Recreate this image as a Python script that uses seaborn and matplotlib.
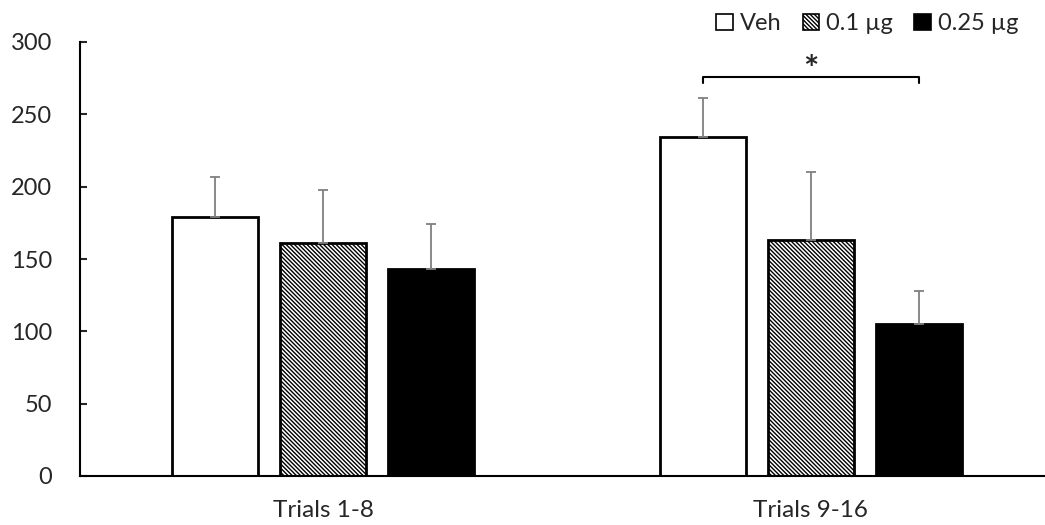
import matplotlib.pyplot as plt
import seaborn as sns
import pandas as pd
from matplotlib.patches import Patch

trials = ['Trials 1-8', 'Trials 9-16']
doses = ['Veh', '0.1 µg', '0.25 µg']
veh = [179, 234]
low = [161, 163]
high = [143, 105]
veh_err = [28, 27]
low_err = [37, 47]
high_err = [31, 23]

df = pd.DataFrame({
    'Trials': trials * 3,
    'Dose': [d for d in doses for _ in trials],
    'Value': veh + low + high,
    'Err': veh_err + low_err + high_err,
})

sns.set_style('white')
plt.rcParams['font.family'] = ['Lato', 'DejaVu Sans']
plt.rcParams['hatch.linewidth'] = 1.0

HATCH = '\\' * 8

fig = plt.figure(figsize=(10.45, 5.25), dpi=100)
ax = fig.add_axes([80 / 1045, 49 / 525, 965 / 1045, 434 / 525])

sns.barplot(data=df, x='Trials', y='Value', hue='Dose', hue_order=doses,
            palette=['white', 'white', 'black'], saturation=1,
            width=0.664, gap=0.2, edgecolor='black', linewidth=2,
            errorbar=None, legend=False, ax=ax)

# bars sorted left to right: trial group, then dose
bars = sorted(ax.patches, key=lambda p: p.get_x())
rows = df.set_index(['Trials', 'Dose'])
order = [(t, d) for t in trials for d in doses]
centers = {}
for p, (t, d) in zip(bars, order):
    x = p.get_x() + p.get_width() / 2
    centers[(t, d)] = x
    if d == '0.1 µg':
        p.set_hatch(HATCH)
    ax.errorbar(x, p.get_height(), yerr=[[0], [rows.loc[(t, d), 'Err']]],
                fmt='none', ecolor='#808080', elinewidth=1.3,
                capsize=3.5, capthick=1.3, zorder=1)

ax.set_xlim(-0.498, 1.48)
ax.set_ylim(0, 300)
ax.set_yticks(range(0, 301, 50))
ax.set_xlabel('')
ax.set_ylabel('')
sns.despine(ax=ax)
for s in ['left', 'bottom']:
    ax.spines[s].set_linewidth(1.5)
    ax.spines[s].set_color('black')
ax.tick_params(axis='y', direction='in', length=5, width=1.5, pad=20,
               labelsize=17, left=True)
ax.tick_params(axis='x', length=0, pad=17, labelsize=17.5)

# significance bracket
x0 = centers[('Trials 9-16', 'Veh')]
x1 = centers[('Trials 9-16', '0.25 µg')]
ax.plot([x0, x0, x1, x1], [271.5, 276, 276, 271.5], color='black', lw=1.5,
        clip_on=False)
ax.text((x0 + x1) / 2, 273, '*', ha='center', va='baseline', fontsize=26,
        fontweight='bold')

handles = [
    Patch(facecolor='white', edgecolor='black', linewidth=1.2, label='Veh'),
    Patch(facecolor='white', edgecolor='black', linewidth=1.2,
          hatch=HATCH, label='0.1 µg'),
    Patch(facecolor='black', edgecolor='black', linewidth=1.2, label='0.25 µg'),
]
fig.legend(handles=handles, loc='upper right', bbox_to_anchor=(0.995, 1.015),
           ncol=3, frameon=False, fontsize=17, handlelength=0.7,
           handleheight=0.7, handletextpad=0.3, columnspacing=0.9)

fig.savefig('out.png', dpi=100)
